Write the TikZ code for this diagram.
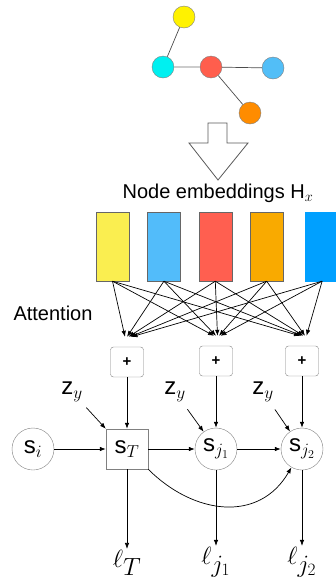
\documentclass[tikz,border=0pt]{standalone}
\usepackage{fontspec}
\setmainfont{Liberation Sans}
\usetikzlibrary{shapes,arrows,arrows.meta,positioning}

\DeclareMathSizes{20}{20}{15}{11}
\DeclareMathSizes{24}{24}{18}{13}
\DeclareMathSizes{34}{34}{25}{18}

\definecolor{vyellow}{HTML}{FFF200}
\definecolor{vcyan}{HTML}{00F0F0}
\definecolor{vred}{HTML}{FF5E4D}
\definecolor{vblue}{HTML}{52BEF7}
\definecolor{vorange}{HTML}{FF8C00}
\definecolor{hyellow}{HTML}{FAEE50}
\definecolor{hblue}{HTML}{52BCFA}
\definecolor{hred}{HTML}{FF5F50}
\definecolor{horange}{HTML}{F9AA00}
\definecolor{hdeep}{HTML}{00A0FF}

\begin{document}
\begin{tikzpicture}[x=1pt, y=-1pt, node distance = 88pt, auto]

    % Define block styles
    \tikzstyle{vertex} = [circle, draw=gray, minimum size=22pt, inner sep=0pt]
    \tikzstyle{embed} = [rectangle, draw=gray!80!black, minimum width=33pt, minimum height=69pt]
    \tikzstyle{sum} = [rectangle, draw=gray, rounded corners=3pt,
        minimum width=33pt, minimum height=30pt, font=\bfseries\fontsize{15}{15}\selectfont]
    \tikzstyle{state} = [circle, draw=gray, minimum size=42pt, inner sep=0pt,
        font=\fontsize{24}{24}\selectfont]
    \tikzstyle{label} = [font=\fontsize{20}{20}\selectfont]
    \tikzstyle{loss} = [inner sep=1pt, font=\fontsize{34}{34}\selectfont]
    \tikzstyle{line} = [draw, line width=0.7pt, -{Latex[length=6pt,width=4.5pt]}]

    \useasboundingbox (0,0) rectangle (336,582);

    % Place nodes
    \node [vertex, fill=vyellow] (vy) at (184,17) {};
    \node [vertex, fill=vcyan] (vc) at (163,67) {};
    \node [vertex, fill=vred] (vr) at (211,67) {};
    \node [vertex, fill=vblue] (vb) at (273,68) {};
    \node [vertex, fill=vorange] (vo) at (250,113) {};

    \node [label] (title) at (218,193) {Node embeddings H$_x$};

    \node [embed, fill=hyellow] (e1) at (112.5,246.5) {};
    \node [embed, fill=hblue, right=18pt of e1] (e2) {};
    \node [embed, fill=hred, right=18pt of e2] (e3) {};
    \node [embed, fill=horange, right=18pt of e3] (e4) {};
    \node [embed, fill=hdeep, draw=hdeep, right=22pt of e4] (e5) {};

    \node [label, anchor=west] (att) at (10,313) {Attention};

    \node [rectangle, draw=gray, minimum width=42pt, minimum height=40pt,
        font=\fontsize{24}{24}\selectfont] (sT) at (127,449) {s$_T$};
    \node [state, left of=sT, node distance=94pt] (si) {s$_i$};
    \node [state, right of=sT, node distance=89pt] (sj1) {s$_{j_1}$};
    \node [state, right of=sj1, node distance=86pt] (sj2) {s$_{j_2}$};

    \node [sum, above of=sT, node distance=87pt] (p1) {+};
    \node [sum, above of=sj1, node distance=88pt] (p2) {+};
    \node [sum, above of=sj2, node distance=88pt] (p3) {+};
    \coordinate [above=10pt of p1] (a1);
    \coordinate [above=10pt of p2] (a2);
    \coordinate [above=10pt of p3] (a3);

    \node [state, draw=none] (z1) at (72,392) {z$_y$};
    \node [state, draw=none] (z2) at (175,392) {z$_y$};
    \node [state, draw=none] (z3) at (263,392) {z$_y$};

    \node [loss, below of=sT, node distance=114pt] (lT) {$\ell_T$};
    \node [loss, below of=sj1, node distance=113pt] (lj1) {$\ell_{j_1}$};
    \node [loss, below of=sj2, node distance=113pt] (lj2) {$\ell_{j_2}$};

    % Draw edges
    \draw [gray!60!black, line width=0.7pt] (vy) -- (vc);
    \draw [gray!40, line width=1.2pt] (vc) -- (vr);
    \draw [gray!60!black, line width=0.7pt] (vr) -- (vb);
    \draw [gray!60!black, line width=0.7pt] (vr) -- (vo);

    \draw [gray!70!black, line width=0.8pt, fill=white]
        (208,123) -- (227,123) -- (227,143) -- (248,143) -- (218,180)
        -- (189,143) -- (208,143) -- cycle;

    \foreach \e/\dx in {e1/-2,e2/0,e3/1.5,e4/3,e5/4.5}
        \foreach \a in {a1,a2,a3}
            \path [line] (\e.south) -- ([xshift=\dx pt]\a);

    \path [line] (p1) -- (sT);
    \path [line] (p2) -- (sj1);
    \path [line] (p3) -- (sj2);
    \path [line] (z1) -- (sT.north west);
    \path [line] (z2) -- (sj1);
    \path [line] (z3) -- (sj2);
    \path [line] (si) -- (sT);
    \path [line] (sT) -- (sj1);
    \path [line] (sj1) -- (sj2);
    \path [line] (sT.south east) to [out=-45, in=-120, looseness=1.15] (sj2);
    \path [line] (sT) -- (lT);
    \path [line] (sj1) -- (lj1);
    \path [line] (sj2) -- (lj2);

\end{tikzpicture}
\end{document}
